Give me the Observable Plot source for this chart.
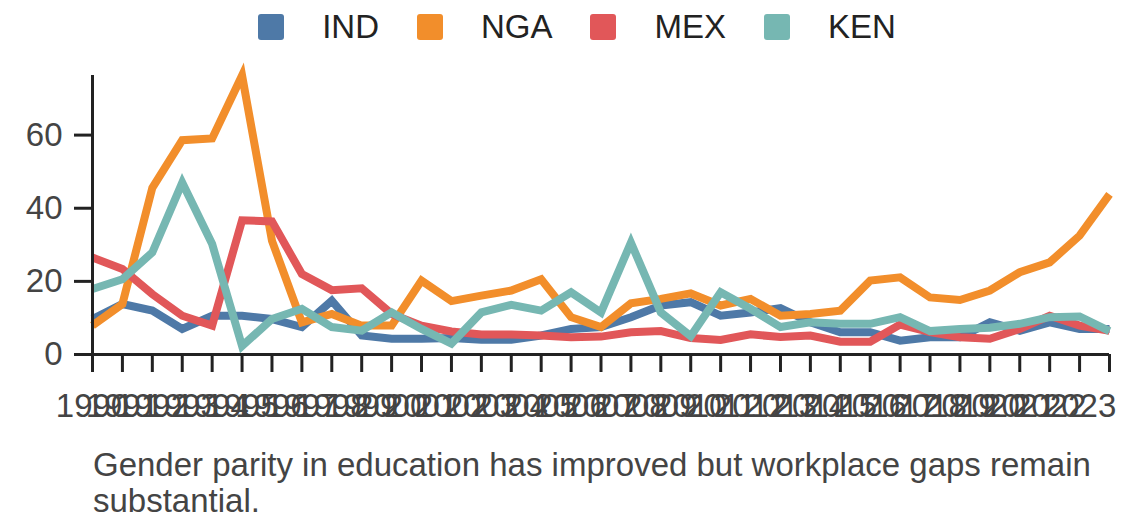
<!DOCTYPE html>
<html>
<head>
<meta charset="utf-8">
<script src="https://cdn.jsdelivr.net/npm/d3@7"></script>
<script src="https://cdn.jsdelivr.net/npm/@observablehq/plot@0.6"></script>
<style>
  body { margin: 0; background: #fff; font-family: "Liberation Sans", Arial, sans-serif; }
  #legend { height: 54px; display: flex; align-items: center; justify-content: center; padding-left: 14px; box-sizing: border-box; gap: 38px; font-size: 33px; color: #222; }
  .item { display: flex; align-items: center; gap: 38px; }
  .sw { width: 26px; height: 26px; border-radius: 3px; }
  #chart svg { display: block; }
  #caption { padding-left: 93px; width: 1020px; font-size: 33px; line-height: 36px; color: #444; }
</style>
</head>
<body>
<div id="legend"></div>
<div id="chart"></div>
<div id="caption">Gender parity in education has improved but workplace gaps remain substantial.</div>
<script>
const years = [1990,1991,1992,1993,1994,1995,1996,1997,1998,1999,2000,2001,2002,2003,2004,2005,2006,2007,2008,2009,2010,2011,2012,2013,2014,2015,2016,2017,2018,2019,2020,2021,2022,2023,2024];
const tickLabels = [1990,1991,1992,1993,1994,1995,1996,1997,1998,1999,2000,2001,2002,2003,2004,2005,2006,2007,2008,2009,2010,2011,2012,2013,2014,2015,2016,2017,2018,2019,2020,2021,2022,2023];
const yTicks = [0, 20, 40, 60];
const series = ["IND", "NGA", "MEX", "KEN"];
const colors = ["#4e79a7", "#f28e2b", "#e15759", "#76b7b2"];

const IND = [9.7,13.8,12.0,7.0,10.6,10.6,9.7,7.5,14.7,5.2,4.3,4.3,4.5,4.0,4.0,5.2,7.0,7.5,10.2,13.4,14.3,10.6,11.5,12.7,8.8,6.1,6.1,3.8,4.7,4.7,8.8,6.5,8.8,7.0,7.0];
const NGA = [7.9,13.8,45.6,58.6,59.1,76.3,31.1,8.8,11.1,7.9,7.9,20.2,14.6,16.1,17.5,20.6,10.2,7.5,14.0,15.2,16.7,13.4,15.2,10.6,11.1,12.0,20.2,21.1,15.6,14.9,17.5,22.5,25.2,32.5,43.8];
const MEX = [26.5,23.4,16.5,10.6,7.9,36.7,36.4,22.0,17.6,18.1,11.1,7.9,6.3,5.5,5.5,5.2,4.7,4.9,6.1,6.4,4.5,4.0,5.5,4.8,5.2,3.5,3.5,8.2,6.1,4.7,4.3,7.0,10.6,7.9,6.5];
const KEN = [17.9,20.6,27.9,47.0,30.2,2.3,9.7,12.5,7.5,6.5,11.5,7.0,3.0,11.5,13.6,12.0,17.0,11.5,30.6,11.5,5.0,17.0,12.5,7.5,8.8,8.4,8.4,10.2,6.4,7.0,7.3,8.4,10.2,10.4,6.4];

const valuesBySeries = {IND, NGA, MEX, KEN};
const data = [];
series.forEach(s => valuesBySeries[s].forEach((v, j) => data.push({year: years[j], value: v, series: s})));

// legend
const legend = document.getElementById("legend");
series.forEach((s, i) => {
  const item = document.createElement("div");
  item.className = "item";
  const sw = document.createElement("div");
  sw.className = "sw";
  sw.style.background = colors[i];
  const label = document.createElement("span");
  label.textContent = s;
  item.appendChild(sw);
  item.appendChild(label);
  legend.appendChild(item);
});

const font = '"Liberation Sans", Arial, sans-serif';
const chart = Plot.plot({
  width: 1140,
  height: 393,
  marginLeft: 92,
  marginRight: 31,
  marginTop: 21,
  marginBottom: 93,
  style: {fontFamily: font, fontSize: "33px", background: "white"},
  x: {type: "linear", domain: [years[0], years[years.length - 1]], label: null},
  y: {zero: true, label: null},
  color: {domain: series, range: colors},
  marks: [
    ...series.map(s => Plot.line(data.filter(d => d.series === s), {
      x: "year", y: "value", stroke: "series", strokeWidth: 8,
      strokeLinejoin: "miter", strokeLinecap: "butt", strokeMiterlimit: 10
    })),
    Plot.axisY({ticks: yTicks, tickSize: 18, tickPadding: 12, stroke: "#222", strokeWidth: 3, fill: "#444", fontSize: 33, label: null}),
    Plot.axisX({ticks: years, tickSize: 18, tickPadding: 21, stroke: "#222", strokeWidth: 3, fill: "#444", fontSize: 33, label: null,
      tickFormat: d => tickLabels.includes(d) ? String(d) : ""}),
    Plot.ruleX([years[0]], {stroke: "#222", strokeWidth: 3}),
    Plot.ruleY([0], {stroke: "#222", strokeWidth: 3})
  ]
});
document.getElementById("chart").appendChild(chart);
</script>
</body>
</html>
